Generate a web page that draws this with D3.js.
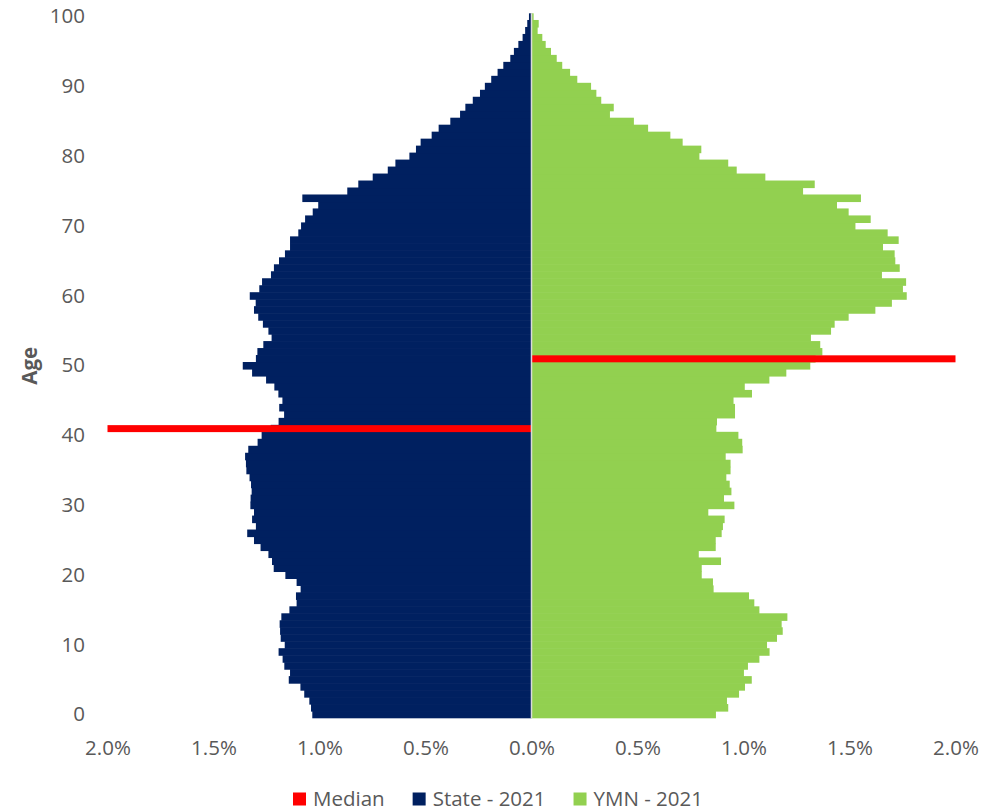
<!DOCTYPE html>
<html>
<head>
<meta charset="utf-8">
<script src="https://cdn.jsdelivr.net/npm/d3@7"></script>
<style>
  html, body { margin: 0; padding: 0; background: #ffffff; }
  svg { display: block; }
  text { font-family: "Open Sans", "Noto Sans", "Liberation Sans", sans-serif; fill: #595959; }
</style>
</head>
<body>
<svg id="chart" width="981" height="812"></svg>
<script>
// ---------------- DATA ----------------
const ages = d3.range(0, 101); // 0 .. 100

// State - 2021, % of population at each single year of age (0..100)
const stateValues = [
  1.034, 1.040, 1.048, 1.072, 1.090, 1.145, 1.139, 1.166, 1.174, 1.193,
  1.164, 1.183, 1.186, 1.188, 1.180, 1.142, 1.108, 1.111, 1.089, 1.108,
  1.161, 1.216, 1.224, 1.241, 1.278, 1.309, 1.341, 1.300, 1.318, 1.309,
  1.326, 1.325, 1.320, 1.323, 1.330, 1.345, 1.347, 1.351, 1.336, 1.292,
  1.273, 1.230, 1.193, 1.167, 1.190, 1.175, 1.194, 1.213, 1.252, 1.318,
  1.362, 1.300, 1.293, 1.265, 1.226, 1.241, 1.267, 1.289, 1.309, 1.301,
  1.329, 1.284, 1.271, 1.229, 1.215, 1.191, 1.163, 1.139, 1.139, 1.100,
  1.087, 1.068, 1.032, 1.006, 1.081, 0.869, 0.817, 0.749, 0.678, 0.642,
  0.576, 0.545, 0.523, 0.471, 0.438, 0.383, 0.337, 0.312, 0.277, 0.243,
  0.220, 0.190, 0.160, 0.133, 0.100, 0.083, 0.062, 0.042, 0.030, 0.020,
  0.012
];

// YMN - 2021, % of population at each single year of age (0..100)
const ymnValues = [
  0.870, 0.928, 0.922, 0.979, 1.007, 1.039, 1.002, 1.021, 1.075, 1.123,
  1.111, 1.158, 1.185, 1.180, 1.207, 1.075, 1.051, 1.026, 0.859, 0.856,
  0.803, 0.803, 0.894, 0.789, 0.869, 0.869, 0.897, 0.903, 0.911, 0.834,
  0.957, 0.908, 0.943, 0.935, 0.919, 0.939, 0.939, 0.916, 0.996, 0.994,
  0.976, 0.872, 0.875, 0.960, 0.960, 0.953, 1.040, 1.006, 1.122, 1.202,
  1.315, 1.340, 1.372, 1.362, 1.318, 1.413, 1.430, 1.496, 1.622, 1.700,
  1.770, 1.752, 1.767, 1.653, 1.737, 1.716, 1.713, 1.658, 1.732, 1.680,
  1.528, 1.600, 1.496, 1.441, 1.554, 1.281, 1.336, 1.103, 0.968, 0.928,
  0.792, 0.801, 0.713, 0.655, 0.550, 0.483, 0.370, 0.388, 0.329, 0.306,
  0.281, 0.216, 0.182, 0.145, 0.119, 0.092, 0.067, 0.051, 0.029, 0.034,
  0.010
];

// Median markers: State median age on the left, YMN median age on the right
const medianAges = [41, 51];
const medianValues = [-2.0, 2.0];

const xTicks = [-2.0, -1.5, -1.0, -0.5, 0.0, 0.5, 1.0, 1.5, 2.0];
const yTicks = [0, 10, 20, 30, 40, 50, 60, 70, 80, 90, 100];

const seriesNames = ["Median", "State - 2021", "YMN - 2021"];
const seriesColors = ["#FF0000", "#002060", "#92D050"];

// ---------------- CHART ----------------
const svg = d3.select("#chart");
svg.append("rect").attr("width", 981).attr("height", 812).attr("fill", "#ffffff");

const x = d3.scaleLinear().domain([-2, 2]).range([107.5, 955.5]);
const y = d3.scaleBand()
  .domain(ages.slice().reverse())
  .range([13.3, 718.3])
  .paddingInner(0).paddingOuter(0);

const overlap = 0.6; // hide anti-aliasing seams between adjacent bars
const plot = svg.append("g");

// State bars (left, negative direction)
plot.append("g").selectAll("rect")
  .data(ages)
  .join("rect")
  .attr("x", d => x(-stateValues[d]))
  .attr("y", d => y(d) - (d === 100 ? 0 : overlap / 2))
  .attr("width", d => x(0) - x(-stateValues[d]))
  .attr("height", d => y.bandwidth() + (d === 100 || d === 0 ? overlap / 2 : overlap))
  .attr("fill", seriesColors[1]);

// YMN bars (right)
plot.append("g").selectAll("rect")
  .data(ages)
  .join("rect")
  .attr("x", x(0))
  .attr("y", d => y(d) - (d === 100 ? 0 : overlap / 2))
  .attr("width", d => x(ymnValues[d]) - x(0))
  .attr("height", d => y.bandwidth() + (d === 100 || d === 0 ? overlap / 2 : overlap))
  .attr("fill", seriesColors[2]);

// Median bars
plot.append("g").selectAll("rect")
  .data(medianAges.map((a, i) => ({ age: a, v: medianValues[i] })))
  .join("rect")
  .attr("x", d => Math.min(x(0), x(d.v)))
  .attr("y", d => y(d.age))
  .attr("width", d => Math.abs(x(d.v) - x(0)))
  .attr("height", y.bandwidth())
  .attr("fill", seriesColors[0]);

// Vertical axis line at zero
plot.append("line")
  .attr("x1", x(0)).attr("x2", x(0))
  .attr("y1", y.range()[0]).attr("y2", y.range()[1])
  .attr("stroke", "#D9D9D9").attr("stroke-width", 1.5);

// X axis (labels only)
const xAxis = d3.axisBottom(x)
  .tickValues(xTicks)
  .tickSize(0)
  .tickPadding(0)
  .tickFormat(d => Math.abs(d).toFixed(1) + "%");
const gx = svg.append("g").attr("transform", "translate(0,748)").call(xAxis);
gx.select(".domain").remove();
gx.selectAll("text")
  .attr("y", 0).attr("dy", "0.35em")
  .style("font-family", '"Open Sans", "Noto Sans", sans-serif')
  .style("font-size", "20.5px")
  .attr("fill", "#595959");

// Y axis (labels only)
const yAxis = d3.axisLeft(y)
  .tickValues(yTicks)
  .tickSize(0)
  .tickPadding(0);
const gy = svg.append("g").attr("transform", "translate(85,0)").call(yAxis);
gy.select(".domain").remove();
gy.selectAll("text")
  .attr("x", 0)
  .style("font-family", '"Open Sans", "Noto Sans", sans-serif')
  .style("font-size", "20.5px")
  .attr("fill", "#595959");

// Y axis title
svg.append("text")
  .attr("transform", "translate(30," + (y(50) + y.bandwidth() / 2) + ") rotate(-90)")
  .attr("text-anchor", "middle")
  .attr("dy", "0.35em")
  .style("font-size", "20.5px")
  .style("font-weight", "bold")
  .text("Age");

// Legend
const legend = svg.append("g");
const items = legend.selectAll("g").data(seriesNames).join("g");
items.append("rect")
  .attr("width", 13).attr("height", 13)
  .attr("y", -6.5)
  .attr("fill", (d, i) => seriesColors[i]);
items.append("text")
  .attr("x", 20)
  .attr("dy", "0.35em")
  .style("font-size", "20.5px")
  .text(d => d);
const widths = [];
items.each(function () { widths.push(this.getBBox().width); });
const gap = 28;
const total = d3.sum(widths) + gap * (widths.length - 1);
const start = 498 - total / 2;
items.attr("transform", (d, i) =>
  "translate(" + (start + d3.sum(widths.slice(0, i)) + gap * i) + ",799)");
</script>
</body>
</html>
